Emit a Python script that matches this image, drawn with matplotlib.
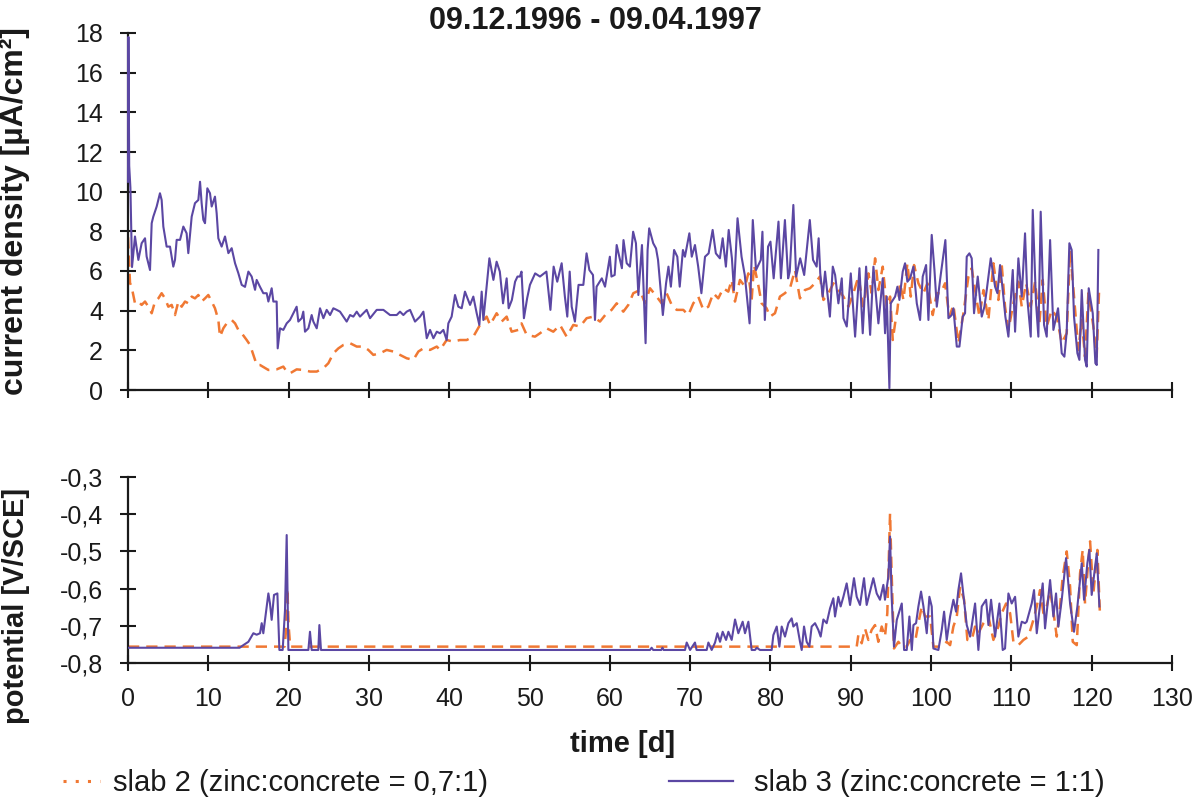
import matplotlib
matplotlib.use("Agg")
import matplotlib.pyplot as plt
from matplotlib.lines import Line2D
from matplotlib.ticker import FuncFormatter

plt.rcParams['font.family'] = ['Liberation Sans', 'DejaVu Sans']

# --- current density, slab 3 (zinc:concrete = 1:1) ---
cd3_day_a = [0.0, 0.05, 0.15, 0.3, 0.5, 0.87, 1.29, 1.7, 2.12, 2.32,
             2.74, 2.95, 3.15, 3.57, 3.98, 4.19, 4.4, 4.81, 5.23, 5.64,
             5.85, 6.06, 6.48, 6.89, 7.3, 7.51, 7.93, 8.34, 8.76, 8.97,
             9.17, 9.38, 9.59, 9.88, 10.21, 10.42, 10.83, 11.04, 11.25, 11.66,
             12.08, 12.5, 12.91, 13.33, 13.74, 14.16, 14.57, 14.99, 15.4, 15.82,
             16.02, 16.44, 16.85, 17.27, 17.48, 17.89, 18.1, 18.51, 18.64, 18.93,
             19.34, 19.76, 20.17, 20.59, 21.0, 21.21, 21.63, 21.83, 22.04, 22.46,
             22.87, 23.08, 23.5, 23.91, 24.33, 24.74, 25.16, 25.57, 25.99, 26.4,
             27.23, 27.65, 28.06, 28.48, 28.89, 29.72, 30.14, 30.97, 31.8, 32.63,
             33.46, 33.87, 34.29, 34.7, 35.12, 35.74, 36.37, 36.78, 37.2, 37.61,
             38.03, 38.45]
cd3_val_a = [10.5, 17.8, 11.3, 10.2, 6.2, 7.74, 6.56, 7.4, 7.65, 6.73,
             6.05, 8.41, 8.74, 9.25, 9.92, 9.58, 8.24, 7.23, 7.23, 6.22,
             6.56, 7.57, 7.57, 8.24, 7.9, 6.9, 8.74, 9.42, 9.58, 10.5,
             9.42, 8.58, 8.41, 10.17, 9.92, 9.25, 9.75, 8.91, 7.65, 7.23,
             7.74, 6.9, 7.15, 6.39, 5.89, 5.3, 5.2, 5.97, 5.72, 5.05,
             5.55, 5.2, 4.88, 4.88, 4.46, 5.13, 4.46, 4.46, 2.1, 3.11,
             3.03, 3.36, 3.53, 3.87, 4.2, 3.45, 3.62, 3.95, 2.94, 3.11,
             3.78, 3.45, 3.11, 4.12, 3.62, 4.04, 3.78, 4.12, 4.04, 3.95,
             3.45, 3.78, 3.7, 3.95, 3.7, 4.04, 3.62, 4.04, 4.04, 3.78,
             3.78, 3.95, 3.78, 3.95, 4.04, 3.45, 3.7, 3.95, 2.61, 3.03,
             2.61, 2.94]
cd3_day_b = [38.85, 39.27, 39.68, 39.89, 40.3, 40.72, 41.13, 41.55, 41.96, 42.59,
             43.0, 43.42, 43.75, 44.04, 44.25, 45.0, 45.5, 45.9, 46.3, 46.7,
             47.15, 47.4, 47.8, 48.2, 48.5, 48.8, 49.0, 49.3, 49.7, 50.05,
             50.7, 51.3, 52.1, 52.3, 52.6, 53.0, 53.45, 54.0, 54.4, 54.7,
             55.0, 55.25, 55.65, 56.1, 56.7, 57.1, 57.45, 57.9, 58.15, 58.35,
             59.0, 59.4, 60.0, 60.2, 60.6, 60.85, 61.5, 61.7, 62.1, 62.5,
             62.9, 63.25, 63.55, 64.0, 64.45, 64.7, 64.9, 65.4, 65.75, 66.0,
             66.6, 67.0, 67.3, 67.6, 68.0, 68.4, 68.7, 69.1, 69.35, 69.9,
             70.2, 70.6, 71.0, 71.4, 71.85, 72.3, 72.8, 73.2, 73.7, 74.05,
             74.45, 74.8, 75.2, 75.45, 75.9, 76.4, 76.8, 77.4, 77.8, 78.2,
             78.8, 79.0, 79.3, 79.7, 80.0, 80.4, 81.0, 81.3, 81.8, 82.2,
             82.4, 82.85, 83.2, 83.7, 84.2, 84.9, 85.3, 85.75, 86.0, 86.2,
             86.5, 86.8, 87.4]
cd3_val_b = [2.86, 3.03, 2.52, 3.36, 3.7, 4.79, 4.2, 4.12, 4.96, 4.29,
             4.71, 3.87, 3.28, 4.96, 3.53, 6.64, 5.55, 6.47, 5.97, 4.37,
             5.63, 4.12, 4.54, 5.46, 5.72, 5.72, 5.97, 3.62, 4.62, 5.3,
             5.88, 5.72, 5.97, 5.21, 4.04, 6.22, 5.46, 6.39, 4.71, 3.7,
             5.97, 4.2, 3.45, 5.3, 5.3, 6.89, 6.05, 5.8, 3.53, 5.21,
             5.63, 5.21, 6.72, 5.72, 5.8, 7.31, 6.14, 7.56, 6.39, 6.22,
             7.98, 7.4, 4.79, 7.31, 2.36, 7.06, 8.15, 7.4, 7.14, 6.56,
             3.78, 5.38, 6.22, 5.21, 7.06, 6.72, 5.21, 7.06, 6.72, 7.9,
             6.72, 7.31, 6.22, 4.88, 6.72, 6.89, 8.07, 6.89, 6.64, 7.65,
             6.22, 8.07, 6.64, 5.04, 8.66, 6.72, 5.8, 3.36, 8.57, 6.05,
             6.56, 7.98, 3.53, 7.23, 7.48, 5.63, 8.49, 5.63, 8.57, 5.63,
             5.97, 9.33, 5.72, 6.64, 5.8, 8.57, 6.56, 6.22, 7.65, 5.88,
             4.71, 5.97, 3.7]
cd3_day_c = [87.76, 88.05, 88.46, 88.88, 89.09, 89.5, 90.0, 90.54, 91.08, 91.49,
             91.91, 92.41, 92.82, 93.44, 93.98, 94.27, 94.48, 94.81, 94.98, 95.52,
             95.81, 96.06, 96.47, 96.76, 97.05, 97.39, 97.8, 98.22, 98.63, 98.96,
             99.38, 99.67, 100.08, 100.42, 100.71, 101.2, 101.78, 102.16, 102.57, 102.78,
             103.2, 103.53, 103.94, 104.23, 104.44, 104.77, 105.06, 105.35, 105.81, 106.31,
             106.64, 106.93, 107.43, 107.97, 108.26, 108.59, 108.92, 109.25, 109.63, 110.17,
             110.46, 110.87, 111.29, 111.7, 112.0, 112.41, 112.66, 113.07, 113.36, 113.65,
             114.07, 114.4, 114.82, 115.23, 115.81, 116.27, 116.6, 116.89, 117.22, 117.51,
             117.8, 118.22, 118.47, 118.76, 119.17, 119.38, 119.63, 120.13, 120.46, 120.63,
             120.83]
cd3_val_c = [6.22, 5.8, 4.37, 5.63, 3.62, 3.2, 5.88, 2.69, 6.14, 2.86,
             6.22, 2.78, 6.22, 3.36, 5.63, 2.86, 4.71, 0.09, 4.37, 4.71,
             5.21, 4.54, 5.97, 6.39, 5.46, 5.63, 6.22, 4.37, 3.53, 5.72,
             6.3, 3.53, 7.82, 6.05, 4.2, 5.8, 7.56, 3.62, 3.78, 4.12,
             2.19, 2.19, 3.7, 3.87, 6.72, 6.89, 6.64, 3.87, 5.72, 3.7,
             4.2, 5.04, 6.64, 5.21, 4.88, 6.3, 5.04, 3.7, 2.69, 6.05,
             2.94, 6.64, 4.71, 7.9, 4.54, 2.69, 9.08, 4.37, 2.69, 8.99,
             3.28, 2.69, 7.56, 3.03, 4.12, 1.85, 1.68, 2.94, 7.4, 7.06,
             3.7, 1.85, 1.52, 5.04, 1.52, 1.18, 5.13, 3.87, 1.35, 1.26,
             7.06]

# --- current density, slab 2 (zinc:concrete = 0,7:1) ---
cd2_day_a = [0.0, 0.25, 0.45, 0.87, 1.29, 1.7, 2.12, 2.53, 2.95, 3.36,
             3.78, 4.19, 4.61, 5.02, 5.44, 5.85, 6.27, 6.68, 7.1, 7.51,
             7.93, 8.34, 8.76, 9.17, 9.59, 10.0, 10.42, 10.83, 11.25, 11.46,
             11.87, 12.29, 12.91, 13.33, 13.74, 14.16, 14.78, 15.2, 15.61, 16.03,
             16.44, 17.48, 18.51, 19.34, 19.76, 20.17, 21.0, 21.83, 22.66, 23.5,
             24.33, 24.95, 25.57, 26.2, 26.82, 27.65, 28.48, 29.31, 29.93, 30.55,
             31.38, 32.21, 33.04, 33.87, 34.7, 35.53, 36.16, 36.78, 37.61, 38.45]
cd2_val_a = [7.7, 5.4, 5.2, 4.37, 4.46, 4.29, 4.46, 4.2, 3.87, 4.46,
             4.62, 4.88, 4.62, 4.2, 4.29, 3.78, 4.46, 4.2, 4.46, 4.37,
             4.71, 4.62, 4.79, 4.46, 4.62, 4.79, 4.46, 4.12, 3.53, 2.69,
             3.11, 3.36, 3.53, 3.36, 3.03, 2.86, 2.52, 2.27, 1.77, 1.26,
             1.26, 1.01, 1.04, 1.18, 0.93, 0.84, 1.04, 1.01, 0.93, 0.93,
             1.1, 1.35, 1.85, 2.1, 2.27, 2.36, 2.19, 2.19, 2.02, 1.77,
             1.85, 2.02, 1.94, 1.77, 1.6, 1.52, 1.94, 2.1, 2.02, 2.19]
cd2_day_b = [38.85, 39.68, 40.5, 41.34, 42.17, 43.0, 43.83, 44.66, 45.08, 45.9,
             46.53, 47.15, 47.77, 48.6, 49.0, 49.64, 50.68, 51.3, 52.13, 52.96,
             53.79, 54.62, 55.45, 56.28, 57.11, 57.94, 58.77, 59.6, 60.22, 60.85,
             61.68, 62.3, 62.92, 63.75, 64.37, 65.0, 65.83, 66.45, 67.07, 67.7,
             68.32, 69.15, 69.77, 70.39, 71.01, 71.64, 72.26, 72.88, 73.5, 74.13,
             74.75, 75.16, 75.58, 76.2, 76.83, 77.24, 77.66, 77.95, 78.48, 78.9,
             79.52, 79.94, 80.56, 81.18, 81.8, 82.43, 83.05, 83.67, 84.29, 84.92,
             85.54, 86.16]
cd2_val_b = [2.02, 2.52, 2.44, 2.52, 2.52, 2.69, 3.28, 3.7, 3.28, 3.87,
             3.45, 3.7, 2.94, 3.03, 3.36, 2.78, 2.69, 2.86, 3.11, 2.94,
             3.28, 2.69, 3.28, 3.2, 3.62, 3.7, 3.45, 3.87, 4.04, 4.37,
             3.95, 4.29, 4.88, 5.04, 4.37, 5.13, 4.71, 4.37, 4.88, 4.29,
             4.04, 4.04, 3.78, 4.37, 4.71, 4.04, 4.2, 4.88, 4.62, 5.13,
             4.96, 5.55, 4.46, 5.55, 5.21, 5.88, 4.54, 6.3, 5.3, 4.37,
             4.12, 3.7, 3.87, 4.71, 4.88, 5.13, 6.05, 4.62, 5.04, 5.13,
             5.38, 5.72]
cd2_day_c = [86.6, 87.22, 87.84, 88.46, 89.09, 89.71, 90.33, 90.95, 91.58, 92.2,
             92.61, 93.03, 93.44, 93.98, 94.48, 94.9, 95.23, 95.52, 95.81, 96.14,
             96.56, 97.05, 97.47, 97.88, 98.42, 99.05, 99.54, 100.21, 100.71, 101.2,
             101.74, 102.28, 102.78, 103.4, 104.03, 104.65, 105.06, 105.48, 106.02, 106.52,
             107.14, 107.76, 108.38, 108.8, 109.21, 109.63, 110.25, 110.87, 111.29, 111.83,
             112.41, 112.95, 113.49, 113.9, 114.4, 115.02, 115.65, 116.27, 116.89, 117.31,
             117.8, 118.34, 118.76, 119.17, 119.59, 120.21, 120.62, 120.92]
cd2_val_c = [4.54, 4.88, 5.38, 5.04, 4.71, 4.2, 4.88, 5.72, 4.2, 5.88,
             4.88, 6.64, 5.04, 6.22, 4.2, 4.71, 2.52, 3.36, 4.04, 5.38,
             4.54, 6.39, 4.71, 6.3, 5.38, 4.88, 5.38, 3.78, 4.88, 4.88,
             5.38, 3.7, 4.29, 2.36, 3.87, 5.72, 6.14, 5.04, 3.7, 5.04,
             3.53, 6.39, 4.54, 6.3, 4.2, 3.03, 4.37, 5.46, 4.2, 5.38,
             4.2, 5.46, 3.36, 5.55, 3.2, 4.04, 3.7, 2.36, 2.86, 7.06,
             4.71, 2.02, 3.53, 1.68, 4.88, 3.2, 1.68, 5.04]

# --- potential, slab 3 ---
pt3_day_a = [0.0, 13.9, 14.36, 14.99, 15.61, 16.02, 16.44, 16.65, 16.85, 17.06,
             17.48, 17.68, 17.89, 18.18, 18.6, 18.85, 19.26, 19.55, 19.76, 19.97,
             22.46, 22.66, 22.87, 23.7, 23.83, 24.03]
pt3_val_a = [-0.759, -0.759, -0.752, -0.743, -0.72, -0.724, -0.72, -0.693, -0.72, -0.684,
             -0.613, -0.64, -0.684, -0.617, -0.613, -0.765, -0.765, -0.658, -0.456, -0.765,
             -0.765, -0.716, -0.765, -0.765, -0.698, -0.765]
pt3_day_b = [65.0, 65.2, 65.4, 66.4, 66.55, 66.7, 69.36, 69.57, 69.99, 70.6,
             70.8, 72.06, 72.27, 72.68, 73.1, 73.39, 73.72, 74.05, 74.47, 74.76,
             75.17, 75.59, 76.0, 76.54, 76.83, 77.25, 77.66, 78.08, 78.29, 78.7,
             80.15, 80.36, 80.78, 81.11, 81.4, 81.81, 82.23, 82.64, 82.85, 83.27,
             83.68, 83.89, 84.18, 84.51, 84.84, 85.13, 85.55, 85.96, 86.25, 86.59,
             87.0, 87.42, 87.83, 88.04, 88.45, 88.74, 89.08, 89.49, 89.91, 90.4,
             90.74, 91.15, 91.65, 91.98, 92.4, 92.81, 93.23, 93.64, 94.06, 94.26,
             94.68, 94.89, 95.09, 95.38]
pt3_val_b = [-0.765, -0.759, -0.765, -0.765, -0.759, -0.765, -0.765, -0.745, -0.765, -0.745,
             -0.765, -0.765, -0.745, -0.765, -0.745, -0.72, -0.743, -0.716, -0.738, -0.716,
             -0.738, -0.683, -0.72, -0.689, -0.72, -0.689, -0.765, -0.765, -0.759, -0.765,
             -0.765, -0.725, -0.702, -0.756, -0.702, -0.729, -0.693, -0.68, -0.702, -0.693,
             -0.743, -0.765, -0.702, -0.743, -0.756, -0.702, -0.693, -0.711, -0.729, -0.683,
             -0.693, -0.653, -0.626, -0.675, -0.622, -0.648, -0.622, -0.586, -0.644, -0.572,
             -0.622, -0.644, -0.572, -0.644, -0.608, -0.572, -0.613, -0.63, -0.59, -0.63,
             -0.568, -0.46, -0.622, -0.756]
pt3_day_c = [95.73, 96.35, 96.64, 96.97, 97.3, 97.6, 97.8, 98.13, 98.42, 98.75,
             99.05, 99.46, 99.79, 100.08, 100.29, 100.91, 101.33, 101.62, 101.95, 102.37,
             102.78, 103.11, 103.4, 103.73, 104.03, 104.44, 104.86, 105.48, 105.89, 106.31,
             106.85, 107.14, 107.47, 107.97, 108.51, 108.92, 109.21, 109.63, 110.04, 110.46,
             110.87, 111.29, 111.7, 111.91, 112.53, 112.82, 113.16, 113.49, 113.9, 114.19,
             114.82, 115.23, 115.56, 115.85, 116.27, 116.81, 117.31, 117.8, 118.22, 118.76,
             119.05, 119.46, 119.71, 120.0, 120.63, 120.96]
pt3_val_c = [-0.684, -0.64, -0.765, -0.765, -0.675, -0.765, -0.698, -0.693, -0.648, -0.608,
             -0.648, -0.72, -0.622, -0.648, -0.761, -0.765, -0.711, -0.662, -0.738, -0.675,
             -0.63, -0.662, -0.604, -0.559, -0.617, -0.698, -0.729, -0.64, -0.765, -0.648,
             -0.63, -0.698, -0.63, -0.729, -0.64, -0.765, -0.761, -0.613, -0.64, -0.622,
             -0.729, -0.689, -0.693, -0.689, -0.64, -0.604, -0.72, -0.658, -0.586, -0.707,
             -0.577, -0.675, -0.613, -0.702, -0.63, -0.518, -0.64, -0.716, -0.648, -0.532,
             -0.63, -0.532, -0.496, -0.617, -0.505, -0.648]

# --- potential, slab 2 ---
pt2_day_a = [0.0, 19.5, 19.65, 19.85, 20.0, 20.2, 90.74]
pt2_val_a = [-0.756, -0.756, -0.72, -0.60, -0.70, -0.756, -0.756]
pt2_day_b = [90.94, 91.36, 91.77, 92.19, 92.6, 93.02, 93.43, 93.85, 94.26, 94.55,
             94.89, 95.09, 95.38, 95.93, 96.35, 96.97, 97.39, 98.01, 98.42, 98.84,
             99.25, 99.88, 100.29, 101.33, 101.95, 102.37, 102.78, 103.2, 103.61, 104.11,
             104.52, 105.06, 105.48, 105.89, 106.52, 107.14, 107.76, 108.38, 108.8, 109.34,
             109.84, 110.25, 110.87, 111.5, 112.12, 112.74, 113.16, 113.57, 113.99, 114.4,
             114.82, 115.23, 115.65, 116.06, 116.39, 116.89, 117.31, 117.64, 118.14, 118.55,
             118.88, 119.17, 119.59, 119.8, 120.21, 120.71, 121.04]
pt2_val_b = [-0.725, -0.747, -0.707, -0.738, -0.711, -0.698, -0.743, -0.702, -0.729, -0.666,
             -0.398, -0.559, -0.761, -0.743, -0.756, -0.756, -0.738, -0.743, -0.693, -0.648,
             -0.675, -0.675, -0.756, -0.756, -0.743, -0.752, -0.702, -0.675, -0.595, -0.63,
             -0.738, -0.738, -0.702, -0.72, -0.693, -0.675, -0.738, -0.702, -0.666, -0.64,
             -0.666, -0.743, -0.752, -0.738, -0.729, -0.684, -0.648, -0.604, -0.666, -0.648,
             -0.604, -0.662, -0.729, -0.648, -0.568, -0.5, -0.595, -0.743, -0.752, -0.559,
             -0.496, -0.64, -0.523, -0.473, -0.613, -0.496, -0.675]

x_ticks = list(range(0, 131, 10))
cd_ticks = list(range(0, 19, 2))
pt_ticks = [-0.8, -0.7, -0.6, -0.5, -0.4, -0.3]

label_2 = "slab 2 (zinc:concrete = 0,7:1)"
label_3 = "slab 3 (zinc:concrete = 1:1)"

PURPLE = '#5b47a3'
ORANGE = '#f07833'
INK = '#1a1a1a'

fig = plt.figure(figsize=(12.02, 8.0), dpi=100)
W, H = 1202, 800
ax1 = fig.add_axes([128 / W, 1 - 390 / H, 1044 / W, 357 / H])
ax2 = fig.add_axes([128 / W, 1 - 663 / H, 1044 / W, 186 / H])

# slab 2 dashed underneath, slab 3 solid on top
ax1.plot(cd2_day_a + cd2_day_b + cd2_day_c, cd2_val_a + cd2_val_b + cd2_val_c,
         color=ORANGE, lw=1.8, dashes=(4.5, 2.8), zorder=2)
ax1.plot(cd3_day_a + cd3_day_b + cd3_day_c, cd3_val_a + cd3_val_b + cd3_val_c,
         color=PURPLE, lw=1.5, zorder=3, clip_on=False)
ax2.plot(pt2_day_a + pt2_day_b, pt2_val_a + pt2_val_b,
         color=ORANGE, lw=1.8, dashes=(4.5, 2.8), zorder=2)
ax2.plot(pt3_day_a + pt3_day_b + pt3_day_c, pt3_val_a + pt3_val_b + pt3_val_c,
         color=PURPLE, lw=1.5, zorder=3)

for ax in (ax1, ax2):
    ax.spines['top'].set_visible(False)
    ax.spines['right'].set_visible(False)
    for s in ('left', 'bottom'):
        ax.spines[s].set_linewidth(1.6)
        ax.spines[s].set_color(INK)
    ax.set_xlim(0, 130)
    ax.set_xticks(x_ticks)
    ax.tick_params(direction='inout', length=12, width=1.5, color=INK,
                   labelsize=18, labelcolor=INK)
    ax.tick_params(axis='y', pad=12)
    ax.tick_params(axis='x', pad=11)
    ax.patch.set_visible(False)

ax1.set_ylim(0, 18)
ax1.set_yticks(cd_ticks)
ax1.tick_params(axis='x', labelbottom=False)

ax2.set_ylim(-0.8, -0.3)
ax2.set_yticks(pt_ticks)
ax2.yaxis.set_major_formatter(FuncFormatter(lambda v, p: f"{v:.1f}".replace('.', ',')))

ax1.set_ylabel("current density [µA/cm²]", fontsize=23, fontweight='bold', color=INK)
ax1.yaxis.set_label_coords(-0.094, 0.5)
ax2.set_ylabel("potential [V/SCE]", fontsize=21, fontweight='bold', color=INK)
ax2.yaxis.set_label_coords(-0.094, 0.306)

fig.text(595 / W, 1 - 21 / H, "09.12.1996 - 09.04.1997", ha='center', va='center',
         fontsize=22, fontweight='bold', color=INK)
fig.text(623 / W, 1 - 744 / H, "time [d]", ha='center', va='center',
         fontsize=21, fontweight='bold', color=INK)

h2 = Line2D([], [], color=ORANGE, lw=2.2, dashes=(1.0, 3.0))
h3 = Line2D([], [], color=PURPLE, lw=1.6)
fig.legend(handles=[h2], labels=[label_2], loc='center left',
           bbox_to_anchor=(63 / W, 1 - 783 / H), frameon=False, borderpad=0,
           borderaxespad=0, handlelength=1.27, handletextpad=0.45, fontsize=21,
           labelcolor=INK)
fig.legend(handles=[h3], labels=[label_3], loc='center left',
           bbox_to_anchor=(669 / W, 1 - 783 / H), frameon=False, borderpad=0,
           borderaxespad=0, handlelength=2.2, handletextpad=0.72, fontsize=21,
           labelcolor=INK)

fig.savefig("out.png", dpi=100, facecolor='white')
